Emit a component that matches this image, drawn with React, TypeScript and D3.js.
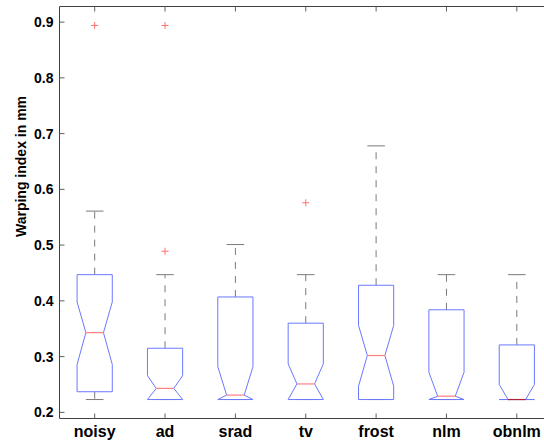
import React from "react";
import * as d3 from "d3";

const categories = ["noisy", "ad", "srad", "tv", "frost", "nlm", "obnlm"];
const q1 = [0.237, 0.223, 0.223, 0.223, 0.223, 0.223, 0.223];
const medians = [0.343, 0.243, 0.231, 0.251, 0.302, 0.229, 0.223];
const q3 = [0.447, 0.315, 0.407, 0.36, 0.428, 0.384, 0.321];
const notchLo = [0.286, 0.223, 0.223, 0.223, 0.247, 0.223, 0.223];
const notchHi = [0.398, 0.266, 0.282, 0.287, 0.356, 0.272, 0.25];
const whiskerLo = [0.223, 0.223, 0.223, 0.223, 0.223, 0.223, 0.223];
const whiskerHi = [0.561, 0.447, 0.501, 0.447, 0.678, 0.447, 0.447];
const outliers: number[][] = [[0.894], [0.894, 0.489], [], [0.576], [], [], []];
const yTicks = [0.2, 0.3, 0.4, 0.5, 0.6, 0.7, 0.8, 0.9];
const yLabel = "Warping index in mm";

const W = 544;
const H = 443;
const left = 59.5;
const top = 6.5;
const bottom = 418.5;
const right = 552;

export default function App() {
  const x = d3.scaleLinear().domain([0.5, 7.5]).range([left, right]);
  const y = d3.scaleLinear().domain([0.189, 0.928]).range([bottom, top]);
  const step = x(2) - x(1);
  const bw = step * 0.25;
  const nw = bw / 2;
  const font = "'Liberation Sans', Arial, Helvetica, sans-serif";

  return (
    <svg
      width={W}
      height={H}
      style={{ position: "absolute", left: 0, top: 0, background: "#fff" }}
    >
      <rect x={0} y={0} width={W} height={H} fill="#fff" />
      {categories.map((c, i) => {
        const cx = x(i + 1);
        const pts: [number, number][] = [
          [cx - bw, y(q1[i])],
          [cx - bw, y(notchLo[i])],
          [cx - nw, y(medians[i])],
          [cx - bw, y(notchHi[i])],
          [cx - bw, y(q3[i])],
          [cx + bw, y(q3[i])],
          [cx + bw, y(notchHi[i])],
          [cx + nw, y(medians[i])],
          [cx + bw, y(notchLo[i])],
          [cx + bw, y(q1[i])],
        ];
        const line = d3.line()(pts) + "Z";
        return (
          <g key={c}>
            <line
              x1={cx}
              x2={cx}
              y1={y(q3[i])}
              y2={y(whiskerHi[i])}
              stroke="#7a7a7a"
              strokeWidth={1}
              strokeDasharray="7,7"
            />
            <line
              x1={cx}
              x2={cx}
              y1={y(q1[i])}
              y2={y(whiskerLo[i])}
              stroke="#7a7a7a"
              strokeWidth={1}
              strokeDasharray="7,7"
            />
            <line x1={cx - nw} x2={cx + nw} y1={y(whiskerHi[i])} y2={y(whiskerHi[i])} stroke="#7a7a7a" strokeWidth={1} />
            <line x1={cx - nw} x2={cx + nw} y1={y(whiskerLo[i])} y2={y(whiskerLo[i])} stroke="#7a7a7a" strokeWidth={1} />
            <path d={line} fill="none" stroke="#6b78ff" strokeWidth={1} />
            <line
              x1={cx - nw}
              x2={cx + nw}
              y1={y(medians[i])}
              y2={y(medians[i])}
              stroke={medians[i] <= q1[i] ? "#b0203a" : "#ff8080"}
              strokeWidth={1.2}
            />
            {outliers[i].map((v, k) => (
              <g key={k} stroke="#ff7070" strokeWidth={1}>
                <line x1={cx - 3.5} x2={cx + 3.5} y1={y(v)} y2={y(v)} />
                <line x1={cx} x2={cx} y1={y(v) - 3.5} y2={y(v) + 3.5} />
              </g>
            ))}
          </g>
        );
      })}
      {/* frame */}
      <line x1={left} x2={right} y1={top} y2={top} stroke="#404040" strokeWidth={1} />
      <line x1={left} x2={right} y1={bottom} y2={bottom} stroke="#404040" strokeWidth={1} />
      <line x1={left} x2={left} y1={top} y2={bottom} stroke="#404040" strokeWidth={1} />
      {/* y ticks */}
      {yTicks.map((t) => (
        <g key={t}>
          <line x1={left} x2={left + 5} y1={y(t)} y2={y(t)} stroke="#606060" strokeWidth={1} />
          <text
            x={53.5}
            y={y(t)}
            textAnchor="end"
            dominantBaseline="central"
            fontFamily={font}
            fontWeight="bold"
            fontSize={14}
            fill="#000"
          >
            {t.toFixed(1)}
          </text>
        </g>
      ))}
      {/* x ticks */}
      {categories.map((c, i) => (
        <g key={c}>
          <line x1={x(i + 1)} x2={x(i + 1)} y1={top} y2={top + 5} stroke="#606060" strokeWidth={1} />
          <line x1={x(i + 1)} x2={x(i + 1)} y1={bottom} y2={bottom - 5} stroke="#606060" strokeWidth={1} />
          <text
            x={x(i + 1)}
            y={436.5}
            textAnchor="middle"
            fontFamily={font}
            fontWeight="bold"
            fontSize={16}
            fill="#000"
          >
            {c}
          </text>
        </g>
      ))}
      <text
        transform={`translate(25.5,166.5) rotate(-90)`}
        textAnchor="middle"
        fontFamily={font}
        fontWeight="bold"
        fontSize={14}
        fill="#000"
      >
        {yLabel}
      </text>
    </svg>
  );
}
